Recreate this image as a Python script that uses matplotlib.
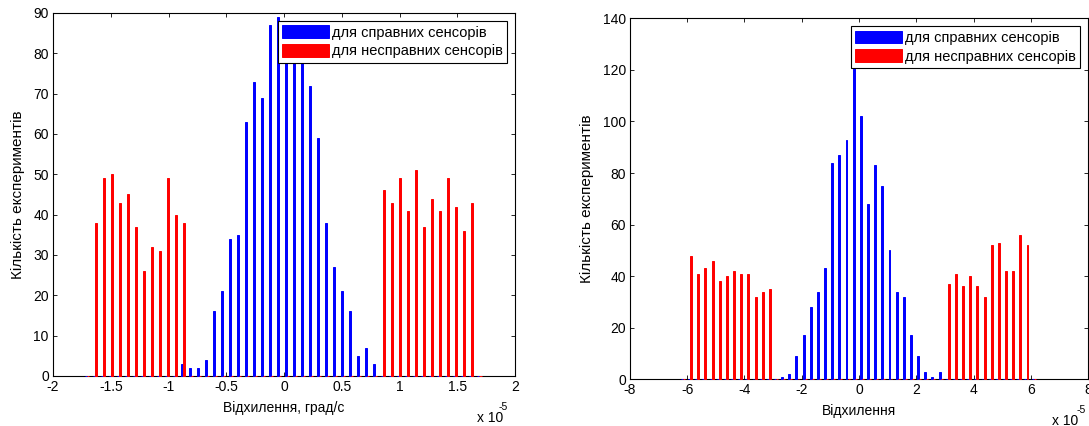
import matplotlib
matplotlib.use("Agg")
import matplotlib.pyplot as plt
import numpy as np

plt.rcParams['font.family'] = ['Liberation Sans', 'DejaVu Sans']

# ---- ліва гістограма (град/с, x 1e-5) ----
centers_l = [-1.706, -1.637, -1.567, -1.498, -1.429, -1.360, -1.290, -1.221, -1.152, -1.082,
             -1.013, -0.944, -0.874, -0.805, -0.736, -0.667, -0.597, -0.528, -0.459, -0.389,
             -0.320, -0.251, -0.181, -0.112, -0.043, 0.027, 0.096, 0.165, 0.234, 0.304,
             0.373, 0.442, 0.512, 0.581, 0.650, 0.719, 0.789, 0.858, 0.927, 0.997,
             1.066, 1.135, 1.205, 1.274, 1.343, 1.412, 1.482, 1.551, 1.620, 1.690]
good_l = [0, 0, 0, 0, 0, 0, 0, 0, 0, 0, 0, 0,
          3, 2, 2, 4, 16, 21, 34, 35, 63, 73, 69, 87, 89, 86, 83, 80, 72, 59, 38, 27, 21, 16, 5, 7, 3,
          0, 0, 0, 0, 0, 0, 0, 0, 0, 0, 0, 0, 0]
bad_l = [0,
         38, 49, 50, 43, 45, 37, 26, 32, 31, 49, 40, 38,
         0, 0, 0, 0, 0, 0, 0, 0, 0, 0, 0, 0, 0, 0, 0, 0, 0, 0, 0, 0, 0, 0, 0, 0,
         46, 43, 49, 41, 51, 37, 44, 41, 49, 42, 36, 43,
         0]

# ---- права гістограма ----
centers_r = [-6.15, -5.90, -5.65, -5.40, -5.15, -4.90, -4.65, -4.40, -4.15, -3.90,
             -3.65, -3.40, -3.15, -2.90, -2.65, -2.40, -2.15, -1.90, -1.65, -1.40,
             -1.15, -0.90, -0.65, -0.40, -0.15, 0.10, 0.35, 0.60, 0.85, 1.10,
             1.35, 1.60, 1.85, 2.10, 2.35, 2.60, 2.85, 3.10, 3.35, 3.60,
             3.85, 4.10, 4.35, 4.60, 4.85, 5.10, 5.35, 5.60, 5.85, 6.10]
good_r = [0, 0, 0, 0, 0, 0, 0, 0, 0, 0, 0, 0, 0, 0,
          1, 2, 9, 17, 28, 34, 43, 84, 87, 93, 125, 102, 68, 83, 75, 50, 34, 32, 17, 9, 3, 1, 3,
          0, 0, 0, 0, 0, 0, 0, 0, 0, 0, 0, 0, 0]
bad_r = [0,
         48, 41, 43, 46, 38, 40, 42, 41, 41, 32, 34, 35,
         0, 0, 0, 0, 0, 0, 0, 0, 0, 0, 0, 0, 0, 0, 0, 0, 0, 0, 0, 0, 0, 0, 0, 0,
         37, 41, 36, 40, 36, 32, 52, 53, 42, 42, 56, 52,
         0]

labels = ['для справних сенсорів', 'для несправних сенсорів']
ylab = 'Кількість експериментів'


def grouped_hist(ax, x, g, b, xlim, ylim, xt, yt, xlabel):
    x = np.array(x)
    step = x[1] - x[0]
    w = 0.27 * step
    off = 0.143 * step
    # нульові стовпчики теж малюються (риски на осі), як у matlab
    ax.bar(x - off, g, width=w, color='#0000ff', edgecolor='#0000ff', linewidth=0.7,
           label=labels[0], zorder=3, clip_on=False)
    ax.bar(x + off, b, width=w, color='#ff0000', edgecolor='#ff0000', linewidth=0.7,
           label=labels[1], zorder=3, clip_on=False)
    ax.set_xlim(xlim)
    ax.set_ylim(ylim)
    ax.set_xticks(xt)
    ax.set_xticklabels([('%g' % v) for v in xt])
    ax.set_yticks(yt)
    ax.tick_params(direction='in', top=True, right=True, length=3, width=0.6,
                   labelsize=10, pad=3)
    for s in ax.spines.values():
        s.set_linewidth(0.8)
    ax.set_xlabel(xlabel, fontsize=10, labelpad=5)
    ax.set_ylabel(ylab, fontsize=11, labelpad=6)
    leg = ax.legend(loc='upper right', fontsize=10.5, frameon=True, fancybox=False,
                    handlelength=3.2, handleheight=0.95, handletextpad=0.2,
                    labelspacing=0.3, borderpad=0.3, borderaxespad=0.55)
    leg.get_frame().set_edgecolor('black')
    leg.get_frame().set_linewidth(0.8)
    leg.get_frame().set_alpha(1)
    leg.set_zorder(5)


fig = plt.figure(figsize=(10.89, 4.26), dpi=100)

ax1 = fig.add_axes([0.0487, 0.1174, 0.4243, 0.8521])
grouped_hist(ax1, centers_l, good_l, bad_l, (-2, 2), (0, 90),
             [-2, -1.5, -1, -0.5, 0, 0.5, 1, 1.5, 2], range(0, 91, 10),
             'Відхилення, град/с')

ax2 = fig.add_axes([0.5785, 0.1096, 0.4206, 0.8474])
grouped_hist(ax2, centers_r, good_r, bad_r, (-8, 8), (0, 140),
             [-8, -6, -4, -2, 0, 2, 4, 6, 8], range(0, 141, 20),
             'Відхилення')

# множник осі x як у MATLAB
fig.text(477 / 1089, 1 - 418 / 426, 'x 10', fontsize=10, ha='left', va='center')
fig.text(499 / 1089, 1 - 407 / 426, '-5', fontsize=7.5, ha='left', va='center')
fig.text(1052 / 1089, 1 - 421 / 426, 'x 10', fontsize=10, ha='left', va='center')
fig.text(1077 / 1089, 1 - 410 / 426, '-5', fontsize=7.5, ha='left', va='center')

fig.savefig('out.png', dpi=100)
